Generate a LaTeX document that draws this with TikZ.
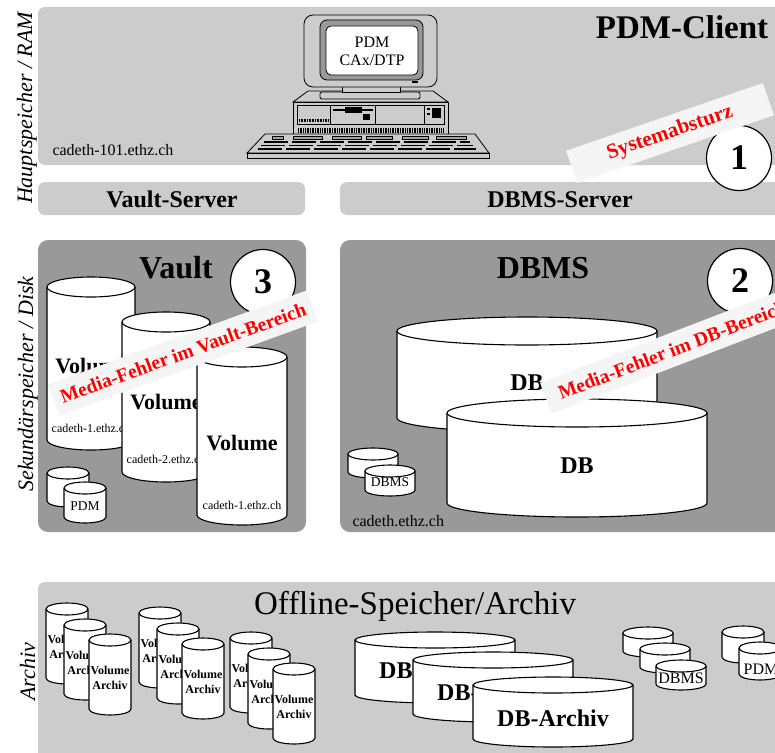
\documentclass[tikz,border=0pt]{standalone}
\usepackage{fontspec}
\setmainfont{Liberation Serif}

% Storage drum: centre x, top y, half width, body height, half depth of ellipse
\newcommand{\drum}[5]{%
  \filldraw[drumline] (#1-#3,#2) -- ++(0,#4)
    arc[x radius=#3, y radius=#5, start angle=180, end angle=0]
    -- ++(0,-#4)
    arc[x radius=#3, y radius=#5, start angle=0, end angle=-180] -- cycle;
  \draw[drumline, fill=none] (#1-#3,#2)
    arc[x radius=#3, y radius=#5, start angle=180, end angle=0];
}

\begin{document}
\begin{tikzpicture}[x=1pt, y=-1pt,
    lightpanel/.style={fill=gray!40, rounded corners=7},
    darkpanel/.style={fill=gray!80, rounded corners=10},
    drumline/.style={fill=white, draw=black, line width=1.1pt},
    hostname/.style={font=\fontsize{16}{16}\selectfont},
    title/.style={font=\fontsize{32}{32}\selectfont\bfseries},
    server/.style={font=\fontsize{24}{24}\selectfont\bfseries},
    storage/.style={rotate=90, anchor=base, font=\fontsize{22}{22}\selectfont\itshape},
    volume/.style={font=\fontsize{22}{22}\selectfont\bfseries},
    dblabel/.style={font=\fontsize{24}{24}\selectfont\bfseries},
    hostsmall/.style={anchor=base, font=\fontsize{12}{12}\selectfont},
    smalltext/.style={font=\fontsize{13.5}{13.5}\selectfont},
    archivvol/.style={align=center, font=\fontsize{12}{15}\selectfont\bfseries},
    failure/.style={circle, draw, line width=1.2pt, fill=white, inner sep=0,
      minimum size=65, font=\fontsize{36}{36}\selectfont\bfseries},
    banner/.style={fill=gray!8, text=red, inner sep=0, minimum height=33,
      font=\fontsize{19.5}{19.5}\selectfont\bfseries}
  ]

  \useasboundingbox (0,0) rectangle (775,752);
  \clip (0,0) rectangle (775,752);

  % Main memory layer (client)
  \fill[lightpanel] (38,7) rectangle (800,165);
  \node[title, font=\fontsize{33}{33}\selectfont\bfseries, anchor=base] (client) at (682,38) {PDM-Client};
  \node[hostname, anchor=base west] (clienthost) at (49,155) {cadeth-101.ethz.ch};

  % Server bars
  \fill[lightpanel] (38,182) rectangle (305,215);
  \fill[lightpanel] (340,182) rectangle (800,215);
  \node[server, anchor=base] (vaultsrv) at (172,207) {Vault-Server};
  \node[server, anchor=base] (dbmssrv) at (560,207) {DBMS-Server};

  % Workstation: case
  \draw[thick, fill=gray!40] (293,102) -- (308,91) -- (433,91) -- (448,102) -- cycle;
  \draw[thick, fill=gray!40] (293,102) rectangle (448,134);
  \draw (297,105) rectangle (444,124);
  \draw (330,105) -- (330,124) (375,105) -- (375,124) (424,105) -- (424,124);
  \draw[line width=3, dash pattern=on 0.8pt off 0.8pt] (299,120) -- (328,120);
  \draw[line width=1.2] (333,110) -- (373,110);
  \fill (345,107) rectangle (362,113);
  \fill (363,114) rectangle (370,120);
  \draw[line width=1.2] (427,109) -- (430,109) (427,114) -- (430,114);
  \fill (432,108) rectangle (441,118);
  % ventilation slots
  \draw[line width=5, dash pattern=on 0.8pt off 0.9pt] (298,130) -- (444,130);

  % monitor with stand
  \draw[thick, fill=gray!40, rounded corners=2] (320,92) rectangle (420,99);
  \draw[thick, fill=gray!40] (342,86) rectangle (400,92);
  \draw[thick, fill=gray!40, rounded corners=9] (304,15) rectangle (437,87);
  \draw[thick, fill=gray!80, rounded corners=7] (320,20) rectangle (423,80);
  \draw[thick, fill=white, rounded corners=5] (326,26) rectangle (418,75);
  \draw[line width=1.5] (412,82) -- (418,82);
  \node[align=center, font=\fontsize{16}{18}\selectfont] (screen) at (372,51) {PDM\\CAx/DTP};

  % keyboard
  \draw[thick, fill=gray!40] (265,134) -- (475,134) -- (489,153) -- (247,153) -- cycle;
  \draw[thick, fill=gray!40] (247,153) rectangle (489,158);
  \foreach \ka/\kb in {272/283, 293/322, 332/361, 366/392, 402/428, 436/466}
    \draw[fill=gray!70] (\ka,136) rectangle (\kb,139);
  \foreach \ky/\ks/\ke in {142/264/470, 145.5/261/473, 149/258/476}
    \draw[line width=1.2, dash pattern=on 24pt off 4pt] (\ks,\ky) -- (\ke,\ky);

  % Secondary storage: vault area
  \fill[darkpanel] (38,240) rectangle (306,532);
  \node[title, anchor=base] (vault) at (176,278) {Vault};

  \drum{91}{287}{44}{153}{10}
  \node[volume] (volA) at (91,366) {Volume};
  \node[hostsmall] (hostA) at (91,432) {cadeth-1.ethz.ch};
  \drum{166}{322}{44}{150}{10}
  \node[volume] (volB) at (166,402) {Volume};
  \node[hostsmall] (hostB) at (166,463) {cadeth-2.ethz.ch};
  \drum{242}{357}{45}{158}{10}
  \node[volume] (volC) at (242,443) {Volume};
  \node[hostsmall] (hostC) at (242,509) {cadeth-1.ethz.ch};

  \drum{68}{473}{21}{28}{6}
  \drum{85}{488}{21}{29}{6}
  \node[smalltext] (vaultpdm) at (85,506) {PDM};

  % Secondary storage: database area
  \fill[darkpanel] (340,240) rectangle (800,532);
  \node[title, anchor=base] (dbms) at (543,278) {DBMS};
  \node[hostname, anchor=base west] (dbhost) at (349,526) {cadeth.ethz.ch};

  \drum{527}{331}{130}{87}{14}
  \node[dblabel] (dbA) at (527,383) {DB};
  \drum{577}{413}{130}{90}{14}
  \node[dblabel] (dbB) at (577,466) {DB};

  \drum{373}{454}{25}{18}{6}
  \drum{390}{471}{25}{19}{6}
  \node[smalltext] (dbmsdisk) at (390,482) {DBMS};

  % Offline storage
  \fill[lightpanel] (38,582) rectangle (800,770);
  \node[anchor=base, font=\fontsize{33}{33}\selectfont] (offline) at (415,614) {Offline-Speicher/Archiv};

  \foreach \gx/\gy [count=\g] in {67/609, 160/613, 251/638}
    \foreach \dx/\dy [count=\i] in {0/0, 18/16, 43/31} {
      \drum{\gx+\dx}{\gy+\dy}{21}{69}{6}
      \node[archivvol] (arc\g\i) at (\gx+\dx,\gy+\dy+38) {Volume\\Archiv};
    }

  \drum{435}{640}{80}{55}{8}
  \node[dblabel] (dbarcA) at (435,670) {DB-Archiv};
  \drum{493}{660}{80}{54}{8}
  \node[dblabel] (dbarcB) at (493,692) {DB-Archiv};
  \drum{553}{685}{80}{54}{8}
  \node[dblabel] (dbarcC) at (553,718) {DB-Archiv};

  \drum{648}{633}{25}{18}{6}
  \drum{665}{649}{25}{18}{6}
  \drum{681}{666}{25}{18}{6}
  \node[font=\fontsize{16}{16}\selectfont] (dbmsarc) at (681,678) {DBMS};
  \drum{743}{632}{21}{25}{6}
  \drum{760}{648}{21}{26}{6}
  \node[font=\fontsize{16}{16}\selectfont] (pdmarc) at (761,669) {PDM};

  % Failure cases
  \node[failure] (crash) at (739,158) {1};
  \node[failure] (dbfail) at (740,281) {2};
  \node[failure] (vaultfail) at (263,282) {3};

  \node[banner, minimum width=208, minimum height=34, rotate=19,
    font=\fontsize{21}{21}\selectfont\bfseries] (crashbanner) at (670,133) {Systemabsturz};
  \node[banner, minimum width=275, rotate=20] (vaulterr) at (183,353) {Media-Fehler im Vault-Bereich};
  \node[banner, minimum width=270, rotate=21] (dberr) at (672,350) {Media-Fehler im DB-Bereich};

  % Storage levels
  \node[storage] (ram) at (32,108) {Hauptspeicher / RAM};
  \node[storage] (disk) at (33,384) {Sekundärspeicher / Disk};
  \node[storage] (archiv) at (35,672) {Archiv};

\end{tikzpicture}
\end{document}
